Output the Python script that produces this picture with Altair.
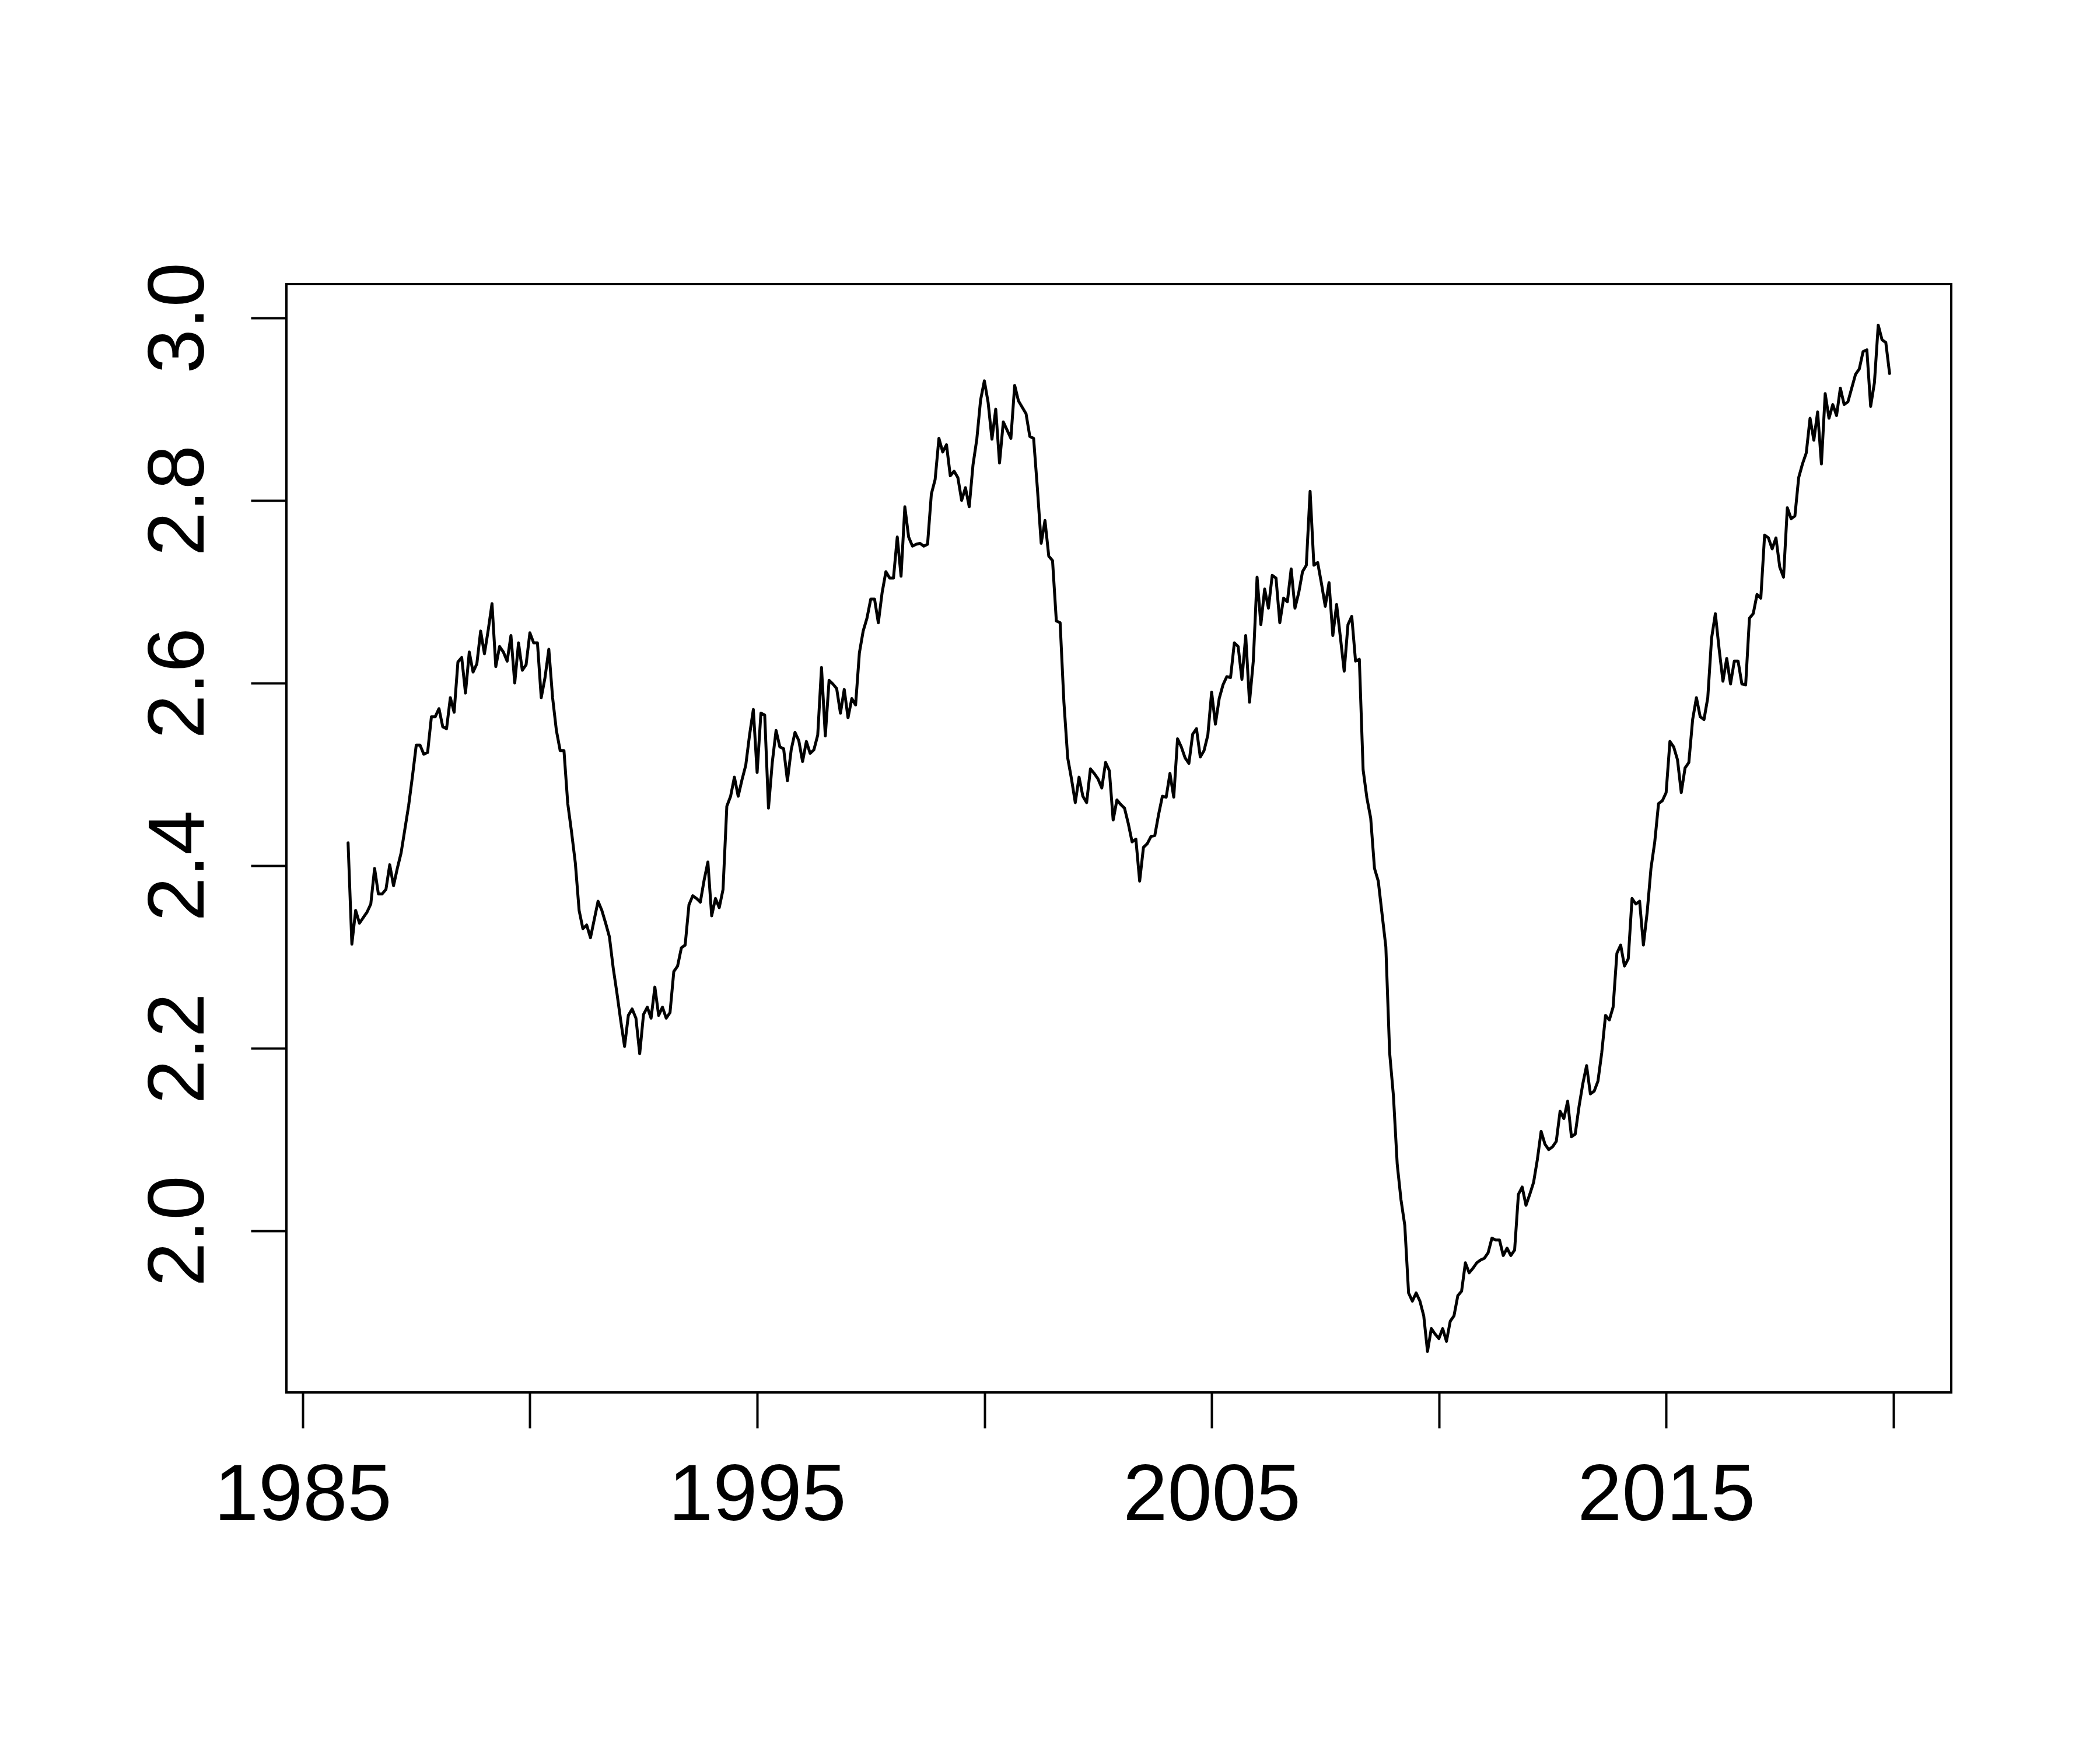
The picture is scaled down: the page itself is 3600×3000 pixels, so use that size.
import altair as alt
import pandas as pd

# Monthly series, Jan 1986 .. Dec 2019
start_year = 1986
values = [
    # 1986
    2.425, 2.314, 2.351, 2.337, 2.343, 2.349, 2.358, 2.397, 2.369, 2.369, 2.374, 2.401,
    # 1987
    2.378, 2.397, 2.414, 2.440, 2.466, 2.498, 2.532, 2.532, 2.522, 2.524, 2.563, 2.563,
    # 1988
    2.572, 2.552, 2.550, 2.584, 2.568, 2.623, 2.628, 2.589, 2.634, 2.612, 2.621, 2.657,
    # 1989
    2.632, 2.658, 2.687, 2.618, 2.640, 2.634, 2.624, 2.652, 2.600, 2.644, 2.614, 2.620,
    # 1990
    2.655, 2.644, 2.644, 2.584, 2.606, 2.637, 2.584, 2.548, 2.526, 2.526, 2.468, 2.437,
    # 1991
    2.403, 2.351, 2.331, 2.335, 2.321, 2.341, 2.361, 2.351, 2.337, 2.322, 2.288, 2.260,
    # 1992
    2.230, 2.202, 2.236, 2.243, 2.233, 2.194, 2.237, 2.245, 2.233, 2.267, 2.236, 2.245,
    # 1993
    2.233, 2.239, 2.284, 2.290, 2.310, 2.313, 2.357, 2.367, 2.364, 2.360, 2.384, 2.404,
    # 1994
    2.345, 2.364, 2.354, 2.374, 2.465, 2.476, 2.497, 2.476, 2.494, 2.510, 2.543, 2.571,
    # 1995
    2.502, 2.567, 2.565, 2.463, 2.513, 2.548, 2.530, 2.528, 2.493, 2.527, 2.546, 2.537,
    # 1996
    2.514, 2.536, 2.523, 2.527, 2.543, 2.617, 2.542, 2.603, 2.599, 2.594, 2.567, 2.593,
    # 1997
    2.562, 2.583, 2.576, 2.633, 2.657, 2.671, 2.692, 2.692, 2.666, 2.699, 2.722, 2.715,
    # 1998
    2.715, 2.760, 2.717, 2.793, 2.760, 2.750, 2.752, 2.753, 2.750, 2.752, 2.807, 2.823,
    # 1999
    2.868, 2.853, 2.861, 2.827, 2.832, 2.825, 2.800, 2.814, 2.793, 2.839, 2.867, 2.910,
    # 2000
    2.931, 2.907, 2.867, 2.900, 2.841, 2.886, 2.877, 2.868, 2.926, 2.909, 2.902, 2.895,
    # 2001
    2.870, 2.868, 2.813, 2.753, 2.778, 2.739, 2.734, 2.668, 2.666, 2.579, 2.518, 2.495,
    # 2002
    2.469, 2.497, 2.476, 2.469, 2.506, 2.501, 2.495, 2.485, 2.513, 2.504, 2.450, 2.472,
    # 2003
    2.467, 2.463, 2.446, 2.426, 2.429, 2.383, 2.420, 2.424, 2.432, 2.433, 2.456, 2.476,
    # 2004
    2.475, 2.501, 2.475, 2.539, 2.530, 2.518, 2.512, 2.544, 2.550, 2.519, 2.526, 2.543,
    # 2005
    2.590, 2.555, 2.583, 2.598, 2.607, 2.606, 2.644, 2.640, 2.604, 2.652, 2.579, 2.624,
    # 2006
    2.716, 2.664, 2.703, 2.682, 2.718, 2.715, 2.666, 2.693, 2.689, 2.725, 2.682, 2.699,
    # 2007
    2.722, 2.729, 2.810, 2.729, 2.732, 2.709, 2.684, 2.710, 2.652, 2.686, 2.650, 2.613,
    # 2008
    2.664, 2.673, 2.624, 2.626, 2.505, 2.474, 2.452, 2.397, 2.383, 2.347, 2.311, 2.195,
    # 2009
    2.148, 2.073, 2.034, 2.006, 1.932, 1.923, 1.932, 1.923, 1.907, 1.868, 1.893, 1.887,
    # 2010
    1.882, 1.893, 1.879, 1.901, 1.907, 1.929, 1.934, 1.965, 1.954, 1.959, 1.965, 1.968,
    # 2011
    1.970, 1.976, 1.992, 1.990, 1.990, 1.973, 1.981, 1.973, 1.979, 2.040, 2.048, 2.028,
    # 2012
    2.040, 2.053, 2.078, 2.109, 2.095, 2.089, 2.092, 2.098, 2.131, 2.123, 2.142, 2.103,
    # 2013
    2.106, 2.136, 2.161, 2.181, 2.150, 2.153, 2.164, 2.195, 2.236, 2.231, 2.245, 2.304,
    # 2014
    2.313, 2.290, 2.298, 2.364, 2.358, 2.361, 2.313, 2.349, 2.397, 2.426, 2.468, 2.471,
    # 2015
    2.480, 2.536, 2.530, 2.516, 2.480, 2.507, 2.513, 2.560, 2.584, 2.563, 2.560, 2.584,
    # 2016
    2.649, 2.676, 2.637, 2.602, 2.627, 2.599, 2.624, 2.624, 2.599, 2.598, 2.671, 2.676,
    # 2017
    2.697, 2.693, 2.762, 2.759, 2.747, 2.759, 2.727, 2.716, 2.792, 2.780, 2.783, 2.825,
    # 2018
    2.840, 2.852, 2.890, 2.866, 2.897, 2.840, 2.917, 2.890, 2.905, 2.893, 2.923, 2.905,
    # 2019
    2.908, 2.923, 2.938, 2.944, 2.963, 2.965, 2.903, 2.929, 2.992, 2.976, 2.973, 2.939,
]

x_ticks = [1985, 1990, 1995, 2000, 2005, 2010, 2015, 2020]
y_ticks = [2.0, 2.2, 2.4, 2.6, 2.8, 3.0]

times = [start_year + i / 12 for i in range(len(values))]
df = pd.DataFrame({"t": times, "v": values})

# R-style 4% axis extension
t0, t1 = times[0], times[-1]
tx = (t1 - t0) * 0.04
v0, v1 = min(values), max(values)
vy = (v1 - v0) * 0.04

font = "Liberation Sans"

line = alt.Chart(df).mark_line(
    color="black", strokeWidth=5, strokeJoin="round", strokeCap="round"
).encode(
    x=alt.X(
        "t:Q",
        scale=alt.Scale(domain=[t0 - tx, t1 + tx], nice=False, zero=False),
        axis=alt.Axis(
            values=x_ticks,
            format="d",
            labelExpr="datum.value % 10 == 5 ? datum.label : ''",
            title=None,
            grid=False,
            domain=False,
            tickSize=61,
            tickWidth=4,
            tickColor="black",
            labelFont=font,
            labelFontSize=137,
            labelColor="black",
            labelBaseline="alphabetic",
            labelPadding=157,
            labelOverlap=False,
            labelFlush=False,
            labelLimit=2000,
        ),
    ),
    y=alt.Y(
        "v:Q",
        scale=alt.Scale(domain=[v0 - vy, v1 + vy], nice=False, zero=False),
        axis=alt.Axis(
            values=y_ticks,
            format=".1f",
            title=None,
            grid=False,
            domain=False,
            tickSize=61,
            tickWidth=4,
            tickColor="black",
            labelFont=font,
            labelFontSize=137,
            labelColor="black",
            labelAngle=270,
            labelAlign="center",
            labelBaseline="alphabetic",
            labelPadding=82,
            labelOverlap=False,
            labelFlush=False,
            labelLimit=2000,
        ),
    ),
)

chart = line.properties(
    width=2854,
    height=1900,
    autosize=alt.AutoSizeParams(type="none"),
    padding={"left": 483, "top": 479, "right": 247, "bottom": 605},
    background="white",
).configure_view(stroke="black", strokeWidth=4)

chart.save("out.html", embed_options={"renderer": "svg", "actions": False})
